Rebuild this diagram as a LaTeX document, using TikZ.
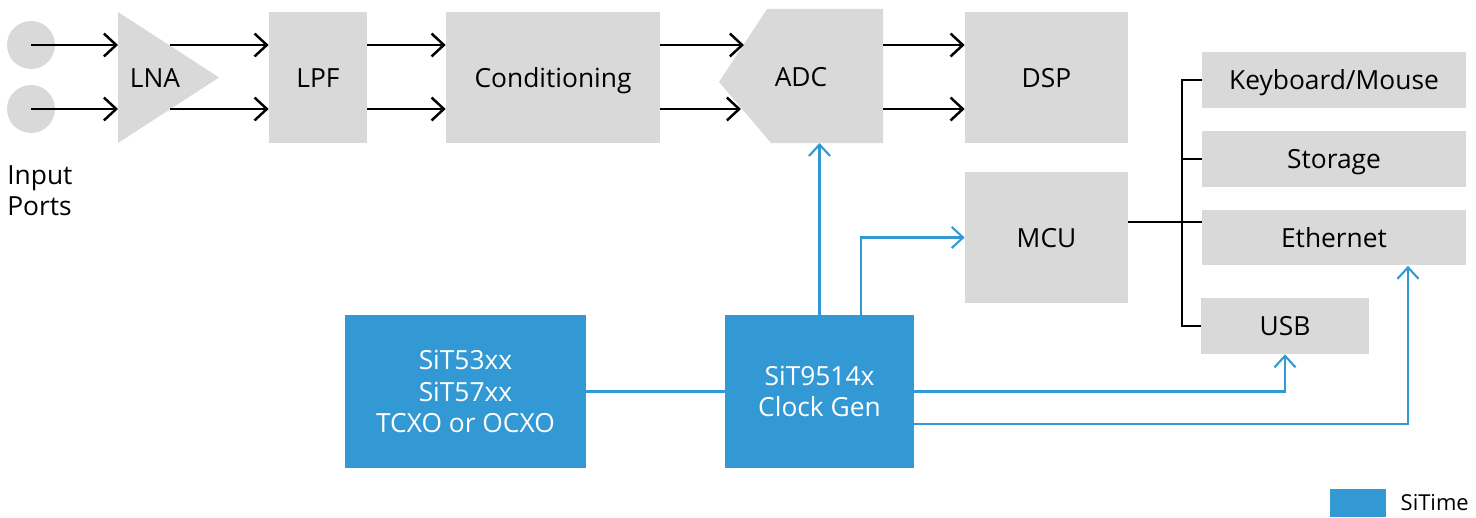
\documentclass[tikz,border=0pt]{standalone}
\usepackage{fontspec}
\setmainfont{Open Sans}
\usepackage{xcolor}
\usepackage{tikz}
\usetikzlibrary{positioning, arrows.meta, calc}

\definecolor{boxgray}{HTML}{D9D9D9}
\definecolor{sitblue}{HTML}{3399D4}

\begin{document}
\begin{tikzpicture}[
    x=0.02cm, y=-0.02cm,
    font=\fontsize{15}{18}\selectfont,
    capnode/.style={text height=11pt, text depth=0pt},
    graynode/.style={capnode, rectangle, fill=boxgray, minimum height=2.62cm, inner sep=0pt},
    barnode/.style={capnode, rectangle, fill=boxgray, minimum width=5.28cm, minimum height=1.12cm, inner sep=0pt},
    bluenode/.style={rectangle, fill=sitblue, text=white, align=center, minimum height=3.06cm, inner sep=0pt},
    portnode/.style={circle, fill=boxgray, minimum size=0.96cm, inner sep=0pt},
    sigarrow/.style={-{Straight Barb[length=7pt,width=13pt]}, line width=1.4pt},
    clkarrow/.style={-{Straight Barb[length=6.5pt,width=12pt]}, line width=1.2pt, draw=sitblue},
    clkline/.style={line width=1.2pt, draw=sitblue},
    busline/.style={line width=1.1pt}
]
\useasboundingbox (0,0) rectangle (1476,517);

\node[portnode](in1) at (31,45){};
\node[portnode](in2) at (31,109){};
\node[anchor=north west, align=left, inner sep=0pt](inlabel) at (7,165){Input\\Ports};

% amplifier and converter shapes
\fill[boxgray] (118,12) coordinate (lna-a) -- (219,77.5) coordinate (lna-b) -- (118,143) coordinate (lna-c) -- cycle;
\coordinate (lna-o) at (170,77.5);
\node[capnode](lna) at (155,77.5){LNA};

\fill[boxgray] (767,9) -- (883,9) -- (883,143) -- (771,143) -- (719,82) -- cycle;
\coordinate (adc-i1) at (744,45);
\coordinate (adc-i2) at (741,109);
\coordinate (adc-o) at (883,77);
\coordinate (adc-s) at (819.5,143);
\node[capnode](adc) at (801,77){ADC};

\node[graynode, minimum width=1.96cm](lpf) at (318,77.5){LPF};
\node[graynode, minimum width=4.28cm](cond) at (553,77.5){Conditioning};
\node[graynode, minimum width=3.26cm](dsp) at (1046.5,77.5){DSP};
\node[graynode, minimum width=3.26cm](mcu) at (1046.5,237.5){MCU};

\node[barnode](kbd) at (1334,80){Keyboard/Mouse};
\node[barnode](stor) at (1334,159){Storage};
\node[barnode](eth) at (1334,237.5){Ethernet};
\node[barnode, minimum width=3.36cm](usb) at (1285,326){USB};

\node[bluenode, minimum width=4.82cm](xo) at (465.5,391.5){SiT53xx\\SiT57xx\\TCXO or OCXO};
\node[bluenode, minimum width=3.78cm](clkgen) at (819.5,391.5){SiT9514x\\Clock Gen};

\node[rectangle, fill=sitblue, minimum width=1.12cm, minimum height=0.56cm, inner sep=0pt](legbox) at (1358,503){};
\node[right=0.28cm of legbox, inner sep=0pt, font=\fontsize{12.5}{15}\selectfont](legtext){SiTime};

% signal path
\draw[sigarrow] (in1.center) -- (in1.center -| lna-a);
\draw[sigarrow] (in2.center) -- (in2.center -| lna-a);
\draw[sigarrow] (in1.center -| lna-o) -- (in1.center -| lpf.west);
\draw[sigarrow] (in2.center -| lna-o) -- (in2.center -| lpf.west);
\draw[sigarrow] (in1.center -| lpf.east) -- (in1.center -| cond.west);
\draw[sigarrow] (in2.center -| lpf.east) -- (in2.center -| cond.west);
\draw[sigarrow] (in1.center -| cond.east) -- (adc-i1);
\draw[sigarrow] (in2.center -| cond.east) -- (adc-i2);
\draw[sigarrow] (in1.center -| adc-o) -- (in1.center -| dsp.west);
\draw[sigarrow] (in2.center -| adc-o) -- (in2.center -| dsp.west);

% peripheral bus
\coordinate (bus) at (1182,222);
\draw[busline] (mcu.east |- bus) -- (eth.west |- bus);
\draw[busline] (kbd.west) -| (bus |- usb) -- (usb.west);
\draw[busline] (bus |- stor) -- (stor.west);

% clocks
\draw[clkline] (xo.east) -- (clkgen.west);
\draw[clkarrow] (clkgen.north) -- (adc-s);
\draw[clkarrow] ([xshift=0.83cm]clkgen.north) |- (mcu.west);
\draw[clkarrow] (clkgen.east) -| (usb.south);
\draw[clkarrow] ([yshift=-0.65cm]clkgen.east) -| ([xshift=1.48cm]eth.south);
\end{tikzpicture}
\end{document}
